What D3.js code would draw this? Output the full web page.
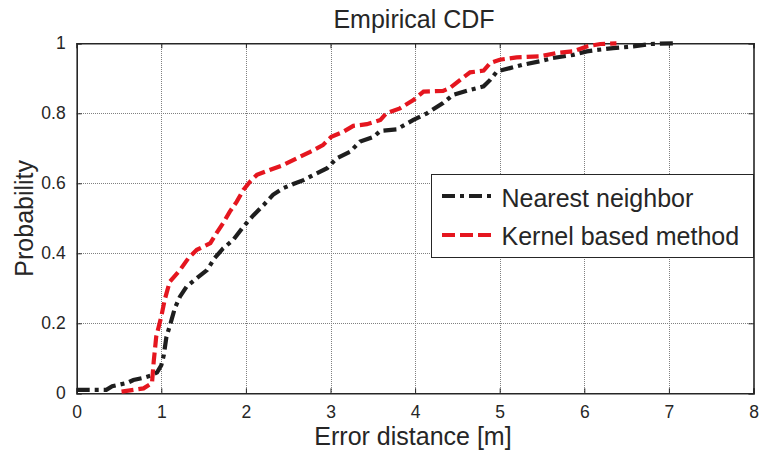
<!DOCTYPE html>
<html>
<head>
<meta charset="utf-8">
<script src="https://cdn.jsdelivr.net/npm/d3@7"></script>
<style>
  html, body { margin: 0; padding: 0; background: #fff; }
  svg { display: block; font-family: "Liberation Sans", Arial, sans-serif; }
</style>
</head>
<body>
<svg id="chart" width="759" height="450"></svg>
<script>
// Empirical CDF of localisation error, two methods
const xTicks = [0, 1, 2, 3, 4, 5, 6, 7, 8];
const yTicks = [0, 0.2, 0.4, 0.6, 0.8, 1];
const seriesNames = ["Nearest neighbor", "Kernel based method"];

// Nearest neighbor: error distance (m) and cumulative probability
const nnX = [0, 0.35, 0.42, 0.6, 0.67, 0.8, 0.87, 0.95, 1.0, 1.03, 1.06, 1.12, 1.16, 1.22, 1.30, 1.42,
  1.54, 1.63, 1.73, 1.85, 1.97, 2.09, 2.21, 2.32, 2.44, 2.56, 2.68, 2.80, 2.96, 3.07, 3.23, 3.35,
  3.51, 3.59, 3.78, 3.98, 4.14, 4.33, 4.45, 4.65, 4.81, 4.89, 4.97, 5.12, 5.28, 5.48, 5.63, 5.87,
  6.03, 6.15, 6.34, 6.58, 6.78, 7.05];
const nnY = [0.01, 0.01, 0.02, 0.03, 0.038, 0.045, 0.05, 0.06, 0.08, 0.11, 0.16, 0.209, 0.243, 0.276, 0.305, 0.329,
  0.352, 0.386, 0.414, 0.438, 0.476, 0.509, 0.538, 0.567, 0.586, 0.598, 0.609, 0.624, 0.643, 0.671, 0.69, 0.719,
  0.733, 0.75, 0.754, 0.781, 0.80, 0.829, 0.853, 0.867, 0.877, 0.896, 0.92, 0.929, 0.939, 0.949, 0.958, 0.967,
  0.977, 0.981, 0.986, 0.991, 0.998, 1.0];

// Kernel based method
const kbX = [0.53, 0.79, 0.89, 0.91, 0.94, 1.0, 1.04, 1.10, 1.22, 1.32, 1.42, 1.58, 1.65, 1.73, 1.81, 1.89,
  1.97, 2.05, 2.13, 2.28, 2.44, 2.60, 2.76, 2.91, 3.01, 3.15, 3.27, 3.43, 3.59, 3.66, 3.82, 3.98,
  4.10, 4.33, 4.41, 4.53, 4.65, 4.81, 4.89, 5.0, 5.20, 5.48, 5.67, 5.87, 6.03, 6.19, 6.38];
const kbY = [0.005, 0.014, 0.029, 0.09, 0.162, 0.219, 0.267, 0.319, 0.352, 0.386, 0.41, 0.429, 0.457, 0.486, 0.519, 0.547,
  0.581, 0.605, 0.624, 0.638, 0.652, 0.671, 0.69, 0.709, 0.733, 0.747, 0.764, 0.769, 0.781, 0.80, 0.814, 0.838,
  0.862, 0.864, 0.872, 0.895, 0.917, 0.922, 0.944, 0.953, 0.96, 0.963, 0.972, 0.977, 0.991, 0.998, 1.0];

const ink = "#262626";
const red = "#e5161f";
const plotLeft = 76.7, plotRight = 753.5, plotTop = 43.3, plotBottom = 393.3;

const svg = d3.select("#chart");
const x = d3.scaleLinear().domain([0, 8]).range([plotLeft, plotRight]);
const y = d3.scaleLinear().domain([0, 1]).range([plotBottom, plotTop]);

// grid
const grid = svg.append("g").attr("stroke", "#808080").attr("stroke-width", 1)
  .attr("stroke-dasharray", "1,1").attr("shape-rendering", "crispEdges");
grid.selectAll(".gx").data(xTicks.slice(1, -1)).join("line")
  .attr("x1", d => Math.round(x(d)) + 0.5).attr("x2", d => Math.round(x(d)) + 0.5)
  .attr("y1", plotTop).attr("y2", plotBottom);
grid.selectAll(".gy").data(yTicks.slice(1, -1)).join("line")
  .attr("y1", d => Math.round(y(d)) + 0.5).attr("y2", d => Math.round(y(d)) + 0.5)
  .attr("x1", plotLeft).attr("x2", plotRight);

// axes (ticks pointing inward on all four sides)
const fmt = d => d3.format("~g")(d);
const axB = svg.append("g").attr("transform", `translate(0,${plotBottom})`)
  .call(d3.axisBottom(x).tickValues(xTicks).tickSize(-5).tickPadding(12).tickFormat(fmt));
const axT = svg.append("g").attr("transform", `translate(0,${plotTop})`)
  .call(d3.axisTop(x).tickValues(xTicks).tickSize(-5).tickFormat(""));
const axL = svg.append("g").attr("transform", `translate(${plotLeft},0)`)
  .call(d3.axisLeft(y).tickValues(yTicks).tickSize(-5).tickPadding(11).tickFormat(fmt));
const axR = svg.append("g").attr("transform", `translate(${plotRight},0)`)
  .call(d3.axisRight(y).tickValues(yTicks).tickSize(-5).tickFormat(""));
[axB, axT, axL, axR].forEach(a => {
  a.selectAll(".domain").attr("stroke", ink).attr("stroke-width", 1.6);
  a.selectAll(".tick line").attr("stroke", ink);
  a.selectAll("text").attr("fill", ink).style("font-size", "17.5px")
    .style("font-family", "'Liberation Sans', Arial, sans-serif");
});

// curves
const line = d3.line().x(d => x(d[0])).y(d => y(d[1]));
const nnData = nnX.map((v, i) => [v, nnY[i]]);
const kbData = kbX.map((v, i) => [v, kbY[i]]);

svg.append("path").datum(nnData).attr("d", line)
  .attr("fill", "none").attr("stroke", "#1e1e1e").attr("stroke-width", 4.2)
  .attr("stroke-dasharray", "13,5,4,5");
svg.append("path").datum(kbData).attr("d", line)
  .attr("fill", "none").attr("stroke", red).attr("stroke-width", 4.2)
  .attr("stroke-dasharray", "12,5");

// title and axis labels
svg.append("text").attr("x", 414).attr("y", 28).attr("text-anchor", "middle")
  .attr("fill", ink).style("font-size", "25px").text("Empirical CDF");
svg.append("text").attr("x", 413).attr("y", 445).attr("text-anchor", "middle")
  .attr("fill", ink).style("font-size", "25px").text("Error distance [m]");
svg.append("text").attr("transform", `translate(33,${(plotTop + plotBottom) / 2}) rotate(-90)`)
  .attr("text-anchor", "middle").attr("fill", ink).style("font-size", "25px").text("Probability");

// legend
const lg = svg.append("g");
lg.append("rect").attr("x", 431.5).attr("y", 174.5).attr("width", 322).attr("height", 83)
  .attr("fill", "#fff").attr("stroke", ink).attr("stroke-width", 1);
const legendRows = [
  { name: seriesNames[0], color: "#1e1e1e", dash: "13,5,4,5", cy: 196, base: 206.5 },
  { name: seriesNames[1], color: red, dash: "13,5", cy: 235, base: 245 }
];
legendRows.forEach(r => {
  lg.append("line").attr("x1", 442).attr("x2", 491).attr("y1", r.cy).attr("y2", r.cy)
    .attr("stroke", r.color).attr("stroke-width", 4.2).attr("stroke-dasharray", r.dash);
  lg.append("text").attr("x", 501.5).attr("y", r.base).attr("fill", ink)
    .style("font-size", "25px").text(r.name);
});
</script>
</body>
</html>
